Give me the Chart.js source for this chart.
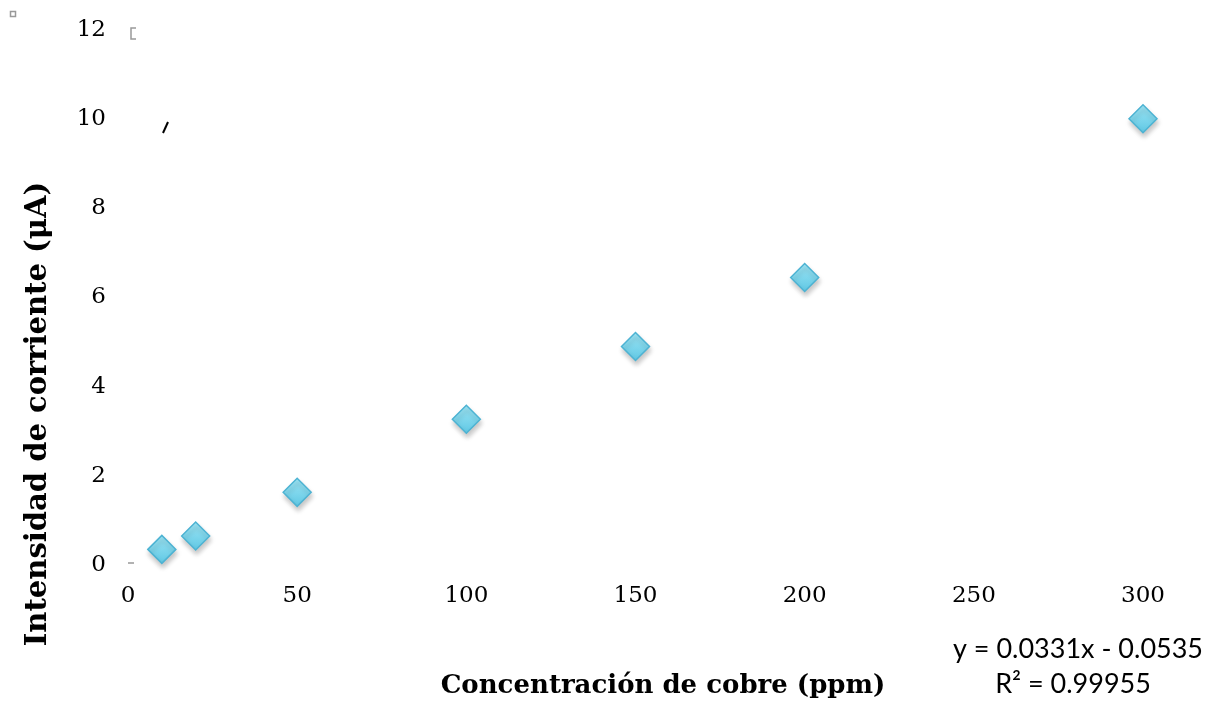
<!DOCTYPE html>
<html>
<head>
<meta charset="utf-8">
<script src="https://cdn.jsdelivr.net/npm/chart.js@4"></script>
<style>
  body { margin: 0; background: #fff; }
  #wrap { width: 1217px; height: 704px; }
</style>
</head>
<body>
<div id="wrap"><canvas id="cobre-chart" width="1217" height="704"></canvas></div>
<script>
// Concentration (ppm) and measured current (µA)
const concentracion = [10, 20, 50, 100, 150, 200, 300];
const intensidad = [0.35, 0.65, 1.63, 3.27, 4.9, 6.45, 10.01];

const xTicks = [0, 50, 100, 150, 200, 250, 300];
const yTicks = [0, 2, 4, 6, 8, 10, 12];

const xTitle = 'Concentración de cobre (ppm)';
const yTitle = 'Intensidad de corriente (μA)';
const trendLabel = ['y = 0.0331x - 0.0535', 'R² = 0.99955'];

const points = concentracion.map((c, i) => ({ x: c, y: intensidad[i] }));

// light-to-dark fill for each diamond
function diamondFill(context) {
    const chart = context.chart;
    if (!chart.scales.y || !context.parsed) return '#78d0e8';
    const py = chart.scales.y.getPixelForValue(context.parsed.y);
    if (!Number.isFinite(py)) return '#78d0e8';
    const g = chart.ctx.createLinearGradient(0, py - 14, 0, py + 14);
    g.addColorStop(0, '#9de5f5');
    g.addColorStop(1, '#60c8e4');
    return g;
}

// shadow under the diamonds
const shadowPlugin = {
    id: 'shadow',
    beforeDatasetDraw(chart) {
        const c = chart.ctx;
        c.save();
        c.shadowColor = 'rgba(0,0,0,0.22)';
        c.shadowBlur = 5;
        c.shadowOffsetX = 1;
        c.shadowOffsetY = 4;
    },
    afterDatasetDraw(chart) {
        chart.ctx.restore();
    }
};

// titles, trendline label and the little stray marks
const textPlugin = {
    id: 'texts',
    afterDraw(chart) {
        const c = chart.ctx;
        c.save();
        c.fillStyle = '#000';
        c.textAlign = 'center';
        c.textBaseline = 'middle';
        c.font = 'bold 26px "DejaVu Serif"';
        c.fillText(xTitle, 663, 686);

        c.translate(38, 414);
        c.rotate(-Math.PI / 2);
        c.font = 'bold 29px "DejaVu Serif"';
        c.fillText(yTitle, 0, 0);
        c.setTransform(1, 0, 0, 1, 0, 0);

        c.font = '27px Lato';
        c.fillText(trendLabel[0], 1078, 649);
        c.fillText(trendLabel[1], 1073, 684);

        // stray marks
        c.strokeStyle = '#999';
        c.lineWidth = 1.5;
        c.strokeRect(10.5, 11.5, 5, 5);
        c.beginPath();
        c.moveTo(136, 28); c.lineTo(131, 28); c.lineTo(131, 39); c.lineTo(136, 39);
        c.stroke();
        c.beginPath();
        c.moveTo(128, 563); c.lineTo(134, 563);
        c.stroke();
        c.strokeStyle = '#000';
        c.lineWidth = 2;
        c.beginPath();
        c.moveTo(168, 122); c.lineTo(163, 133);
        c.stroke();
        c.restore();
    }
};

const ctx = document.getElementById('cobre-chart').getContext('2d');
const cobreChart = new Chart(ctx, {
    type: 'scatter',
    data: {
        datasets: [{
            label: 'Intensidad',
            data: points,
            clip: false,
            pointStyle: 'rectRot',
            pointRadius: 14,
            pointHoverRadius: 14,
            backgroundColor: diamondFill,
            borderColor: '#4db3d3',
            borderWidth: 1.5
        }]
    },
    options: {
        responsive: false,
        animation: false,
        layout: {
            padding: { left: 0, right: 74, top: 30, bottom: 0 }
        },
        plugins: {
            legend: { display: false },
            tooltip: { enabled: false }
        },
        scales: {
            x: {
                type: 'linear',
                min: 0,
                max: 300,
                afterBuildTicks: scale => { scale.ticks = xTicks.map(v => ({ value: v })); },
                afterFit: scale => {
                    scale.height = 139;
                    scale.paddingLeft = 0;
                    scale.paddingRight = 0;
                },
                grid: { display: false, drawTicks: false },
                border: { display: false },
                ticks: {
                    padding: 17,
                    color: '#000',
                    font: { family: 'DejaVu Serif', size: 23 }
                }
            },
            y: {
                min: 0,
                max: 12,
                afterBuildTicks: scale => { scale.ticks = yTicks.map(v => ({ value: v })); },
                afterFit: scale => {
                    scale.width = 128;
                    scale.paddingTop = 0;
                    scale.paddingBottom = 0;
                },
                grid: { display: false, drawTicks: false },
                border: { display: false },
                ticks: {
                    padding: 22,
                    color: '#000',
                    font: { family: 'DejaVu Serif', size: 23 }
                }
            }
        }
    },
    plugins: [shadowPlugin, textPlugin]
});
</script>
</body>
</html>
